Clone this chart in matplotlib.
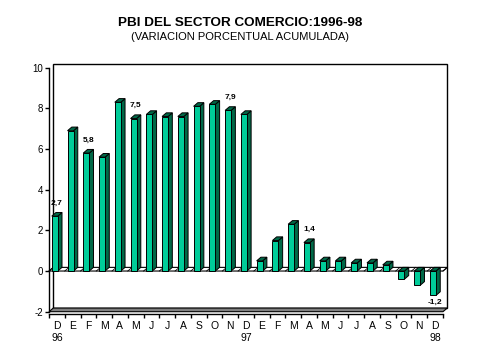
import matplotlib

matplotlib.use("agg")
import matplotlib.pyplot as plt
from matplotlib.patches import Polygon, Rectangle

plt.rcParams["font.family"] = ["Liberation Sans", "DejaVu Sans"]
plt.rcParams["axes.unicode_minus"] = False

# monthly cumulative % change, Dec-96 .. Dec-98
months = ["D", "E", "F", "M", "A", "M", "J", "J", "A", "S", "O", "N",
          "D", "E", "F", "M", "A", "M", "J", "J", "A", "S", "O", "N", "D"]
years = {0: "96", 12: "97", 24: "98"}
values = [2.7, 6.9, 5.8, 5.6, 8.3, 7.5, 7.7, 7.6, 7.6, 8.1, 8.2, 7.9,
          7.7, 0.5, 1.5, 2.3, 1.4, 0.5, 0.5, 0.4, 0.4, 0.3, -0.4, -0.7, -1.2]
labelled = [0, 2, 5, 11, 16, 24]

FRONT = "#00cc99"
SIDE = "#006847"

fig = plt.figure(figsize=(4.79, 3.59), dpi=100)
ax = fig.add_axes([49 / 479, 1 - 311.7 / 359, 394 / 479, 244 / 359])
n = len(values)
ax.set_xlim(-0.5, n - 0.5)
ax.set_ylim(-2, 10)

dx, dy = 0.27, 0.18  # 3-D depth in data units
w = 0.38

# back wall
x0, x1 = -0.5, n - 0.5
ax.add_patch(Rectangle((x0 + dx, -2 + dy), x1 - x0, 12, fill=False, ec="black",
                       lw=1, clip_on=False, zorder=1))
# floor
ax.add_patch(Polygon([(x0, -2), (x1, -2), (x1 + dx, -2 + dy), (x0 + dx, -2 + dy)],
                     closed=True, fc="#808080", ec="black", lw=0.8, clip_on=False, zorder=2))
# zero plane
ax.add_patch(Polygon([(x0, 0), (x1, 0), (x1 + dx, dy), (x0 + dx, dy)],
                     closed=True, fc="white", ec="black", lw=0.8, clip_on=False, zorder=2))
for i in range(n + 1):
    xb = i - 0.5
    ax.plot([xb, xb + dx], [0, dy], color="black", lw=0.6, zorder=2, clip_on=False)

for i, v in enumerate(values):
    lo, hi = min(0, v), max(0, v)
    left = i - (w + dx) / 2
    right = left + w
    ax.add_patch(Polygon([(right, lo), (right + dx, lo + dy), (right + dx, hi + dy), (right, hi)],
                         closed=True, fc=SIDE, ec="black", lw=0.7, zorder=3))
    ax.add_patch(Polygon([(left, hi), (left + dx, hi + dy), (right + dx, hi + dy), (right, hi)],
                         closed=True, fc=SIDE, ec="black", lw=0.7, zorder=3))
    ax.add_patch(Rectangle((left, lo), w, hi - lo, fc=FRONT, ec="black", lw=0.7, zorder=4))

for i in labelled:
    v = values[i]
    txt = ("%.1f" % v).replace(".", ",")
    yy = v + 0.65 if v > 0 else v - 0.35
    ax.text(i, yy, txt, ha="center", va="center", fontsize=6, fontweight="bold", zorder=5)

# spines / ticks
for s in ["top", "right"]:
    ax.spines[s].set_visible(False)
ax.spines["left"].set_linewidth(1)
ax.spines["bottom"].set_linewidth(1)
ax.spines["bottom"].set_position(("outward", 1.5))
ax.set_yticks(range(-2, 11, 2))
ax.tick_params(axis="y", length=3, width=1, labelsize=7, pad=1.5, direction="out")
ax.set_xticks([i + 0.5 for i in range(-1, n)], minor=True)
ax.set_xticks(range(n))
ax.set_xticklabels([m + ("\n" + years[i] if i in years else "") for i, m in enumerate(months)],
                   fontsize=7.5, linespacing=1.25, va="top")
ax.tick_params(axis="x", which="major", length=0, pad=5)
ax.tick_params(axis="x", which="minor", length=3, width=1, direction="out")
for lbl in ax.get_xticklabels():
    lbl.set_horizontalalignment("center")

fig.text(240 / 479, 1 - 23 / 359, "PBI DEL SECTOR COMERCIO:1996-98", ha="center", va="center",
         fontsize=9.7, fontweight="bold")
fig.text(240 / 479, 1 - 37 / 359, "(VARIACION PORCENTUAL ACUMULADA)", ha="center", va="center",
         fontsize=8)

fig.savefig("out.png", dpi=100)
